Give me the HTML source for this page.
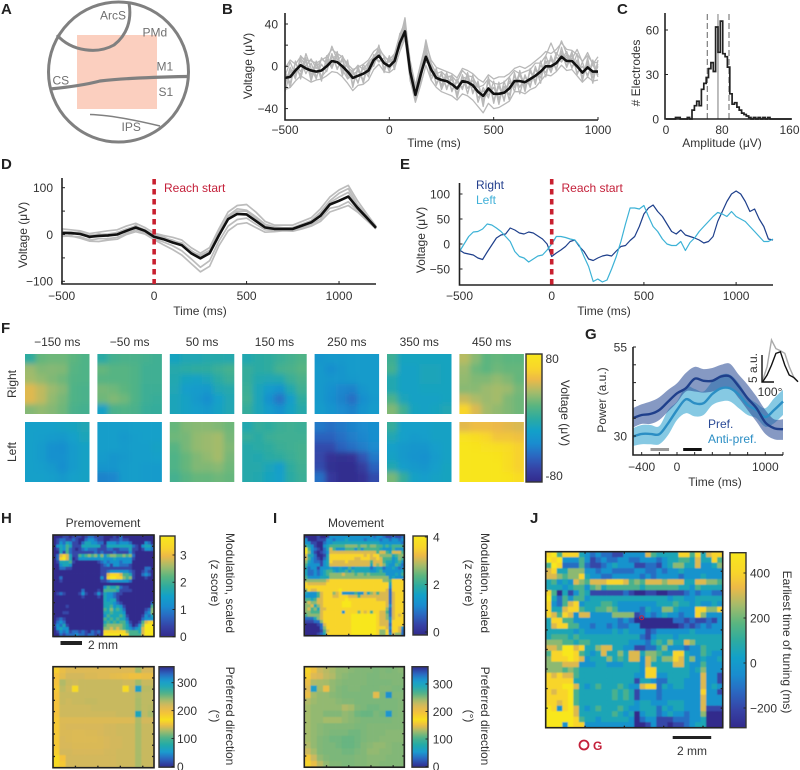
<!DOCTYPE html>
<html lang="en">
<head>
<meta charset="utf-8">
<title>Neural recording figure</title>
<style>
html,body{margin:0;padding:0;background:#fff;overflow:hidden;}
svg{display:block;filter:blur(0.3px);}
text{font-family:"Liberation Sans",Arial,sans-serif;font-size:12px;fill:#333;}
.pl{font-size:15px;font-weight:bold;fill:#222;}
.am{fill:#707070;font-size:12px;}
.red{fill:#c4203a;}
</style>
</head>
<body>
<svg id="figure" xmlns="http://www.w3.org/2000/svg" width="800" height="770" viewBox="0 0 800 770">
<rect width="800" height="770" fill="#fff"/>

<!-- Panel letters -->
<text class="pl" x="1" y="14">A</text>
<text class="pl" x="222" y="14">B</text>
<text class="pl" x="617" y="14">C</text>
<text class="pl" x="1" y="169">D</text>
<text class="pl" x="400" y="169">E</text>
<text class="pl" x="1" y="333">F</text>
<text class="pl" x="585" y="339">G</text>
<text class="pl" x="1" y="523">H</text>
<text class="pl" x="273" y="523">I</text>
<text class="pl" x="530" y="523">J</text>

<!-- Panel A: brain schematic -->
<g>
<rect x="77" y="35" width="80" height="74" fill="#fbcfbf"/>
<circle cx="118.5" cy="72" r="70" fill="none" stroke="#808080" stroke-width="3"/>
<path d="M129 3 C132 20 127 35 114 45 C98 54 72 52 57 35" fill="none" stroke="#808080" stroke-width="3"/>
<path d="M50 89 C70 87 85 85 100 81 C125 78 160 77 187 76.5" fill="none" stroke="#808080" stroke-width="3.2"/>
<path d="M90 114.5 C110 115 135 120 160 126" fill="none" stroke="#808080" stroke-width="1.5"/>
<text class="am" x="100" y="19.5">ArcS</text>
<text class="am" x="142.5" y="36.5">PMd</text>
<text class="am" x="156.5" y="70.5">M1</text>
<text class="am" x="158.5" y="96">S1</text>
<text class="am" x="52.5" y="84.5">CS</text>
<text class="am" x="121.5" y="131">IPS</text>
</g>

<g id="panel-b"></g>
<text transform="translate(252,66) rotate(-90)" text-anchor="middle">Voltage (μV)</text>
<text x="434" y="147" text-anchor="middle">Time (ms)</text>

<g id="panel-c"></g>
<text transform="translate(640,73) rotate(-90)" text-anchor="middle"># Electrodes</text>
<text x="722" y="147" text-anchor="middle">Amplitude (μV)</text>
<text x="666" y="134" text-anchor="middle">0</text>
<text x="722" y="134" text-anchor="middle">80</text>
<text x="799.5" y="134" text-anchor="end">160</text>

<g id="panel-d"></g>
<text transform="translate(27,235) rotate(-90)" text-anchor="middle">Voltage (μV)</text>
<text x="200" y="315" text-anchor="middle">Time (ms)</text>
<text class="red" x="164" y="192">Reach start</text>

<g id="panel-e"></g>
<text transform="translate(425,240) rotate(-90)" text-anchor="middle">Voltage (μV)</text>
<text x="604" y="315" text-anchor="middle">Time (ms)</text>
<text class="red" x="561.5" y="192">Reach start</text>
<text x="476" y="189" style="fill:#24408e">Right</text>
<text x="476" y="204" style="fill:#3fb0d8">Left</text>

<g id="panel-f"></g>
<text transform="translate(16,384) rotate(-90)" text-anchor="middle">Right</text>
<text transform="translate(16,452) rotate(-90)" text-anchor="middle">Left</text>
<text x="545.5" y="363">80</text>
<text x="545.5" y="480">-80</text>
<text transform="translate(561,413) rotate(90)" text-anchor="middle">Voltage (μV)</text>

<g id="panel-g"></g>
<text transform="translate(606,400) rotate(-90)" text-anchor="middle">Power (a.u.)</text>
<text x="715" y="486" text-anchor="middle">Time (ms)</text>
<text x="708" y="428" style="fill:#2a4a96">Pref.</text>
<text x="708" y="443" style="fill:#2b8ec4">Anti-pref.</text>
<text transform="translate(757,368) rotate(-90)" text-anchor="middle">5 a.u.</text>
<text x="770" y="396" text-anchor="middle">100°</text>

<g id="panel-h"></g>
<text x="103" y="527" text-anchor="middle">Premovement</text>
<text transform="translate(226,583) rotate(90)" text-anchor="middle">Modulation, scaled</text>
<text transform="translate(211,583) rotate(90)" text-anchor="middle">(z score)</text>
<rect x="60.5" y="641" width="21.5" height="4" fill="#222"/>
<text x="88" y="649">2 mm</text>
<text transform="translate(226,716) rotate(90)" text-anchor="middle">Preferred direction</text>
<text transform="translate(211,716) rotate(90)" text-anchor="middle">(°)</text>

<g id="panel-i"></g>
<text x="356" y="527" text-anchor="middle">Movement</text>
<text transform="translate(481,583) rotate(90)" text-anchor="middle">Modulation, scaled</text>
<text transform="translate(465,583) rotate(90)" text-anchor="middle">(z score)</text>
<text transform="translate(481,716) rotate(90)" text-anchor="middle">Preferred direction</text>
<text transform="translate(465,716) rotate(90)" text-anchor="middle">(°)</text>

<g id="panel-j"></g>
<text transform="translate(783,642) rotate(90)" text-anchor="middle">Earliest time of tuning (ms)</text>
<circle cx="641.7" cy="617.7" r="2" fill="none" stroke="#c4203a" stroke-width="1"/>
<circle cx="584" cy="745" r="4.5" fill="none" stroke="#c4203a" stroke-width="1.8"/>
<text class="red" x="593" y="750" style="font-weight:bold">G</text>
<rect x="672.7" y="736" width="38.5" height="3" fill="#222"/>
<text x="692" y="755" text-anchor="middle">2 mm</text>
</svg>

<script>
/* ---------- Panel B data (25 ms steps, -500..1000 ms) ---------- */
const bStart = -500;
const bStep = 25;
const bMean = [-11,-10,-4,1,-2,-4,-5,-4,0,5,4,0,-5,-11,-9,-7,-4,6,10,3,0,5,22,33,-5,-27,-8,9,-3,-11,-13,-14,-17,-21,-14,-15,-18,-24,-28,-21,-26,-26,-25,-21,-14,-14,-15,-12,-9,-5,0,0,3,9,5,5,0,-6,-1,-5,-5];
const bTrace1 = [-2,6,2,9,6,5,3,6,9,16,12,9,2,-3,-1,2,6,14,18,9,6,12,30,42,5,-18,2,22,6,-1,-3,-5,-7,-11,-2,-4,-7,-12,-15,-8,-12,-10,-10,-7,-2,0,-2,1,5,9,14,12,16,22,16,15,11,5,10,3,4];
const bTrace2 = [-22,-20,-14,-9,-12,-15,-13,-12,-9,-5,-6,-10,-16,-23,-18,-17,-13,-3,2,-5,-6,-2,14,26,-13,-34,-18,1,-13,-20,-24,-26,-28,-32,-26,-28,-32,-38,-44,-35,-40,-39,-36,-33,-24,-24,-26,-22,-20,-14,-8,-9,-5,1,-4,-3,-9,-15,-10,-14,-13];
const bTrace3 = [-6,-16,3,-5,5,-11,2,-11,7,-2,11,-6,3,-17,-3,-13,3,0,15,-3,6,0,27,38,-11,-24,-3,14,-9,-6,-19,-9,-22,-15,-20,-9,-24,-17,-34,-14,-32,-19,-31,-14,-20,-8,-21,-5,-14,1,-6,7,-3,14,-1,11,-6,0,-8,2,-10];
const bTrace4 = [-15,-4,-10,6,-7,3,-10,2,-5,11,-2,6,-11,-6,-15,-1,-10,11,5,8,-5,10,17,36,-2,-30,-14,14,1,-16,-8,-20,-12,-26,-9,-21,-13,-30,-23,-27,-20,-32,-19,-27,-9,-20,-10,-18,-3,-11,5,-6,9,4,11,-1,6,-12,5,-11,0];
const bTrace5 = [-9,4,-8,8,0,7,-2,7,3,19,6,10,-1,-5,1,-3,4,9,16,10,4,9,25,46,2,-20,-4,25,3,-7,-5,-10,-9,-15,-4,-9,-10,-20,-18,-12,-16,-17,-15,-10,-4,-7,-5,-3,3,3,10,22,10,24,12,7,16,4,13,2,9];
const bTrace6 = [-18,-1,-12,10,4,-8,5,-10,-4,12,-3,8,-9,-4,-16,2,-7,2,15,-2,8,2,20,40,-8,-24,-12,18,-5,-5,-18,-6,-24,-12,-22,-6,-26,-14,-38,-10,-35,-15,-33,-10,-24,-4,-24,-2,-17,5,-10,10,-4,18,0,14,-8,4,-10,6,-8];
const bTrace7 = [-4,-20,5,-12,8,-14,3,-14,10,0,14,-9,6,-20,0,-16,4,3,20,-6,10,-3,31,35,-14,-30,0,20,-13,-2,-22,-10,-10,-28,-8,-26,-8,-34,-20,-30,-14,-36,-14,-32,-6,-26,-8,-20,0,-16,10,-4,13,6,14,-2,12,-14,8,-16,6];
const bTrace8 = [-24,-6,-2,-8,12,-2,-12,8,2,8,10,-3,-12,-8,-4,-14,0,9,4,8,-2,12,18,29,0,-32,-6,4,3,-18,-6,-22,-8,-30,-10,-12,-20,-16,-32,-24,-20,-30,-22,-16,-18,-6,-18,-14,-2,-8,4,6,-2,12,8,0,4,-10,2,-8,2];
const bXTicks = [-500,0,500,1000];
const bYTicks = [40,0,-40];
const bYMinorTicks = [20,-20];

/* ---------- Panel C data ---------- */
const cBinWidth = 3;
const cCounts = [0,0,0,0,1,1,0,0,0,1,0,6,9,12,9,20,24,28,34,38,32,62,45,66,44,42,35,17,10,11,8,6,4,3,2,1,0,1,0,1,0,1,0,1,0,0,0,0,0,0,0,0,0];
const cRefLines = [52.5,80];
const cMeanLine = [66];
const cYTicks = [60,30,0];

/* ---------- Panel D data (50 ms steps, -500..1200 ms) ---------- */
const dStart = -500;
const dStep = 50;
const dMean = [3,3,1,-5,-3,-2,0,8,15,8,-5,-10,-17,-23,-40,-51,-40,-2,33,44,43,29,15,12,12,12,19,26,40,64,72,81,57,36,14];
const dTrace1 = [12,10,8,2,5,8,10,18,24,15,3,-2,-6,-12,-28,-40,-28,12,48,62,64,48,28,20,20,20,28,36,55,80,95,105,72,44,18];
const dTrace2 = [8,-1,6,-8,2,-4,5,4,20,4,0,-5,-14,-18,-36,-44,-34,5,40,55,52,38,22,16,14,14,22,30,48,72,88,98,64,40,16];
const dTrace3 = [-4,-3,-8,-14,-15,-12,-10,0,6,1,-11,-22,-32,-44,-62,-80,-68,-24,8,22,25,15,5,6,8,7,12,18,28,48,55,62,48,30,12];
const dTrace4 = [-2,-4,-5,-12,-9,-9,-6,2,10,4,-9,-16,-24,-35,-52,-70,-56,-14,18,32,35,22,10,9,10,10,15,22,33,56,60,70,52,32,13];
const dTrace5 = [6,5,4,-2,0,1,4,12,18,10,-2,-7,-12,-20,-34,-48,-36,2,38,50,50,34,18,14,13,15,22,28,44,68,80,90,60,38,15];
const dXTicks = [-500,0,500,1000];
const dYTicks = [100,0,-100];
const dYMinorTicks = [50,-50];

/* ---------- Panel E data (25 ms steps, -500..1200 ms) ---------- */
const eStart = -500;
const eStep = 25;
const eRight = [-12,-18,-20,-22,-28,-31,-16,-2,12,18,20,32,28,22,20,24,22,16,10,0,-25,-18,-12,-5,5,8,-5,-15,-30,-33,-28,-24,-22,-24,-14,-5,-3,7,15,35,60,72,78,65,55,40,25,20,28,18,15,12,8,2,5,15,45,65,85,100,106,100,85,65,70,50,35,10,8];
const eLeft = [-15,0,15,24,25,30,40,38,32,25,15,5,-15,-25,-28,-36,-30,-24,-22,-12,0,15,15,13,10,8,-3,-25,-45,-75,-70,-76,-72,-50,-25,5,40,72,72,70,77,55,35,25,10,0,-3,-3,5,-13,3,12,25,35,45,55,63,60,55,65,55,50,45,35,25,15,5,5,10];
const eXTicks = [-500,0,500,1000];
const eYTicks = [100,50,0,-50];

/* ---------- Panel F data (μV, 6x6 coarse maps) ---------- */
const fTimeLabels = ["−150 ms","−50 ms","50 ms","150 ms","250 ms","350 ms","450 ms"];
const fRightM150 = [[0,18,20,20,16,12],[30,24,25,24,14,12],[32,28,24,20,13,12],[45,38,30,25,12,10],[45,38,28,22,12,10],[25,28,25,20,10,8]];
const fRightM50 = [[-2,8,10,10,8,6],[18,14,14,12,6,6],[14,14,14,12,6,6],[22,20,16,12,5,5],[20,24,20,12,5,3],[-15,10,12,10,3,2]];
const fRight50 = [[-12,-8,-8,-5,-4,-5],[-4,-2,0,0,4,8],[-6,-12,-14,-10,-2,4],[-8,-18,-20,-22,-8,-5],[-10,-14,-22,-30,-16,-8],[-10,-14,-18,-22,-14,-8]];
const fRight150 = [[-6,-2,0,4,8,12],[2,-2,0,8,10,14],[2,-6,-8,-6,4,10],[4,-10,-20,-26,-6,6],[6,-10,-28,-42,-18,0],[2,-10,-20,-28,-14,-4]];
const fRight250 = [[-24,-22,-22,-20,-20,-20],[-22,-30,-24,-20,-20,-20],[-22,-24,-24,-22,-20,-20],[-22,-28,-34,-36,-24,-20],[-22,-30,-36,-44,-30,-22],[-20,-26,-32,-36,-26,-20]];
const fRight350 = [[5,-12,-12,-12,-12,-12],[8,-14,-14,-10,-10,-12],[-6,-14,-14,-10,-10,-12],[-6,-14,-14,-12,-12,-12],[10,-10,-14,-14,-14,-12],[24,6,-12,-14,-12,-8]];
const fRight450 = [[36,26,16,18,16,16],[30,20,16,20,18,18],[28,24,24,28,24,18],[26,26,30,32,30,22],[40,34,30,32,24,20],[62,44,32,28,24,20]];
const fLeftM150 = [[-16,-16,-16,-14,-12,-8],[-16,-18,-20,-22,-16,-10],[-16,-20,-28,-30,-20,-14],[-16,-20,-28,-28,-20,-14],[-16,-18,-22,-30,-20,-14],[-16,-16,-18,-22,-16,-14]];
const fLeftM50 = [[-18,-18,-18,-16,-16,-16],[-18,-18,-22,-18,-16,-16],[-18,-18,-20,-18,-18,-14],[-20,-24,-22,-18,-18,-16],[-24,-24,-20,-18,-20,-20],[-36,-34,-20,-18,-20,-20]];
const fLeft50 = [[18,24,26,26,24,20],[20,22,28,30,32,22],[14,22,28,30,32,24],[12,18,24,28,32,22],[12,18,24,24,26,20],[8,14,18,18,20,18]];
const fLeft150 = [[-6,2,0,4,6,4],[2,-2,4,6,6,6],[-4,-2,0,4,6,8],[-4,-6,-2,0,4,8],[-4,-4,-10,-18,0,6],[-4,-6,-12,-16,-2,4]];
const fLeft250 = [[-40,-44,-40,-36,-32,-30],[-50,-50,-44,-38,-34,-30],[-60,-60,-50,-44,-38,-32],[-62,-74,-76,-74,-56,-40],[-60,-76,-78,-78,-68,-50],[-44,-70,-78,-78,-74,-60]];
const fLeft350 = [[2,-16,-16,-16,-14,-14],[-8,-16,-20,-18,-14,-14],[-16,-22,-24,-24,-18,-14],[-14,-22,-26,-28,-20,-14],[-6,-18,-22,-24,-18,-12],[22,2,-14,-18,-14,-12]];
const fLeft450 = [[46,50,50,48,46,44],[74,70,64,54,54,52],[78,76,74,72,68,60],[78,78,78,76,70,60],[78,78,78,78,70,60],[78,78,78,78,76,70]];

/* ---------- Panel G data (100 ms steps, -500..1200 ms) ---------- */
const gStart = -500;
const gStep = 100;
const gPrefMean = [35.0,35.9,36.2,37.3,39.7,42.0,43.4,46.1,45.5,45.5,46.7,46.7,43.9,40.6,37.8,33.8,32.2,31.9];
const gPrefUpper = [37.8,38.9,39.7,40.9,43.0,44.8,47.7,49.4,48.8,49.1,50.0,50.3,47.2,44.4,41.1,37.3,34.7,34.7];
const gPrefLower = [32.4,33.4,33.4,34.5,36.9,39.4,42.5,42.5,42.2,42.5,43.4,43.4,40.6,37.3,34.0,30.6,29.1,28.9];
const gAntiMean = [29.8,30.6,30.6,30.5,33.6,37.3,40.3,39.2,39.2,41.8,43.4,43.4,41.6,38.7,37.3,35.3,37.3,39.7];
const gAntiUpper = [32.2,33.1,33.1,32.8,37.3,39.7,43.9,43.2,42.5,45.3,47.2,47.2,44.8,41.1,39.2,37.8,40.6,43.0];
const gAntiLower = [27.2,27.7,27.7,27.7,30.3,34.5,36.4,35.5,35.9,38.7,39.7,39.7,37.8,35.9,35.0,32.6,33.6,35.9];
const gXTicks = [-400,-200,0,200,400,600,800,1000,1200];
const gXTickLabels = ["−400","","0","","","","","1000",""];
const gYTicks = [55,50,45,40,35,30];
const gYTickLabels = ["55","","","","","30"];
const gPremoveWindow = [-300,-90];
const gMoveWindow = [70,280];
const insetGray = [0.3,2.8,7.8,6.2,5.8,5.3,2.8,0.9,0];
const insetBlack = [0,1.25,3.1,5.3,5.6,3.1,1.25,0.8,0];

/* ---------- Panels H / I / J data: colour levels 0..9 per electrode ---------- */
const hModulationLevels = [
[0,0,0,1,1,0,1,1,1,0,1,2,2,1,1,1,0,0,0,1,0,2,0,0,0,0,0,0,0,0,0,0],
[0,1,2,2,1,1,2,1,0,0,2,3,3,2,1,1,0,0,1,1,1,2,1,1,0,0,0,0,0,0,0,0],
[0,1,3,2,4,3,1,1,0,2,4,4,3,3,2,2,0,3,3,3,2,3,3,3,2,0,0,0,0,3,2,0],
[0,3,4,3,5,4,1,1,1,4,4,4,4,4,4,1,1,4,4,4,4,4,4,4,4,2,1,0,3,4,4,2],
[0,1,4,3,5,2,1,0,1,2,3,2,2,2,1,1,1,2,2,1,1,2,2,2,4,1,1,0,1,3,3,2],
[0,0,4,1,5,2,1,1,1,1,1,1,1,2,1,2,1,1,1,2,1,1,1,1,3,1,0,0,0,0,0,0],
[0,2,7,8,7,4,1,1,5,4,5,6,5,6,4,6,3,5,6,6,5,5,6,5,6,2,0,0,0,0,0,0],
[0,2,8,9,7,4,0,1,3,3,3,3,3,3,3,4,3,3,3,4,3,3,3,3,3,1,0,0,0,0,0,0],
[0,1,4,4,4,5,1,0,0,0,0,0,0,0,1,2,3,2,3,3,3,2,3,3,3,0,0,0,0,0,0,0],
[0,0,3,4,4,3,0,0,0,0,0,0,0,0,0,1,2,3,1,3,3,2,2,2,1,0,0,0,0,0,0,0],
[0,0,2,2,1,1,0,0,0,0,0,0,0,0,0,1,1,1,1,1,1,1,1,1,1,0,0,0,0,2,2,0],
[0,0,0,0,0,0,0,0,0,0,0,0,0,0,0,1,1,2,3,3,3,3,3,3,2,1,0,0,1,2,1,0],
[0,0,0,0,0,0,0,0,0,0,0,0,0,0,0,1,1,7,8,8,8,7,5,5,4,1,0,0,2,3,2,0],
[0,0,2,0,0,0,0,0,0,0,0,0,0,0,0,3,1,8,9,9,8,8,6,5,6,1,0,0,0,1,0,0],
[0,0,1,0,0,0,0,0,0,0,0,0,0,0,0,1,1,2,3,3,3,3,3,3,2,0,0,0,0,0,0,0],
[0,0,0,0,0,0,0,0,0,0,0,0,0,0,0,0,0,0,0,0,0,0,0,0,0,0,0,0,0,0,0,0],
[0,0,0,0,0,0,0,0,0,0,0,0,0,0,0,0,3,5,4,4,5,2,1,1,0,0,0,0,0,0,0,0],
[0,0,0,0,0,0,0,0,0,2,0,0,0,0,1,0,5,5,5,5,4,1,1,1,1,0,0,0,0,0,0,0],
[0,1,2,1,0,0,0,0,1,3,1,0,0,1,3,1,4,3,3,2,1,1,0,0,0,0,0,0,0,0,0,0],
[0,0,0,0,0,0,0,0,0,1,0,0,0,0,1,0,4,3,3,2,1,0,0,0,0,0,0,0,0,0,0,0],
[0,0,0,0,0,0,0,0,0,0,0,0,0,0,0,0,4,3,4,4,1,0,0,0,0,0,0,0,0,0,0,0],
[0,0,0,0,0,0,0,0,0,0,0,0,0,0,0,0,4,4,4,3,2,1,0,0,0,0,0,0,0,0,0,2],
[0,0,0,0,1,0,0,0,0,0,0,0,0,0,0,0,4,4,5,3,4,3,1,0,0,0,0,0,0,0,0,5],
[0,0,0,0,0,0,0,0,0,0,0,0,0,0,0,0,5,4,6,4,5,4,2,0,0,0,0,0,0,1,2,6],
[0,0,0,1,1,0,0,0,0,0,0,0,0,0,0,0,4,4,5,4,4,4,3,0,0,0,0,0,0,2,3,6],
[0,0,0,0,0,0,0,0,0,0,0,0,0,0,0,0,3,5,4,4,4,5,4,1,0,0,0,0,1,3,2,4],
[0,1,2,1,0,0,0,0,0,0,0,0,0,0,0,0,5,4,5,4,5,4,4,2,0,0,0,0,2,3,3,3],
[0,2,3,2,0,0,0,0,0,0,0,0,0,0,0,0,4,5,4,5,4,5,5,3,1,0,0,1,5,7,8,8],
[1,3,2,4,1,0,0,0,0,0,0,0,0,0,0,0,5,6,6,6,6,6,5,4,2,0,1,3,6,9,9,9],
[0,3,4,3,3,0,0,0,0,0,0,0,0,0,0,0,6,6,7,6,7,6,5,4,3,2,3,4,7,9,9,9],
[0,1,3,2,3,1,2,2,1,2,1,0,2,1,2,0,8,8,8,8,8,8,8,6,5,5,5,4,7,9,9,9],
[0,0,2,1,2,2,2,3,2,2,1,2,2,1,1,0,9,9,9,9,9,9,9,8,5,5,5,5,7,9,9,9]
];
const iModulationLevels = [
[0,0,0,0,1,0,0,1,3,3,3,3,3,3,3,3,3,3,3,3,3,3,2,3,3,2,1,1,2,1,1,2],
[3,0,0,0,1,1,1,3,3,2,3,3,3,4,3,3,3,3,3,2,3,3,3,3,2,3,3,2,3,3,2,3],
[3,3,1,1,0,0,2,3,3,4,4,4,4,4,4,4,4,4,4,4,4,4,4,4,3,3,3,3,3,3,3,2],
[5,4,3,1,0,0,3,4,5,5,5,5,5,6,6,6,6,5,6,6,5,6,6,5,5,4,5,4,5,5,5,5],
[9,5,3,2,1,0,2,4,7,5,3,3,3,5,5,5,3,5,3,5,5,5,5,5,4,3,3,3,5,3,3,3],
[9,6,3,1,0,1,2,3,7,7,7,7,7,7,7,7,7,7,7,7,7,7,7,5,7,7,5,4,7,7,7,5],
[7,4,4,2,0,0,1,4,8,8,8,8,8,8,8,8,8,8,8,7,8,7,8,8,6,6,6,6,4,5,6,6],
[7,5,3,2,1,0,2,4,8,8,8,8,8,8,8,8,7,7,8,8,8,7,7,8,7,5,5,5,3,4,6,5],
[6,4,3,2,2,1,3,4,8,7,7,7,7,8,7,7,7,7,7,7,7,5,7,7,7,5,4,4,3,4,5,3],
[5,3,3,3,3,1,3,4,7,7,7,7,7,7,7,7,7,7,7,7,7,4,7,6,7,6,4,3,3,5,4,2],
[4,2,3,3,1,3,3,3,4,3,3,4,3,3,5,3,4,4,4,4,4,2,3,4,4,2,3,3,4,3,2,3],
[4,2,2,3,2,3,4,5,5,4,3,4,4,5,3,5,4,4,4,4,4,3,3,4,5,3,3,3,3,3,3,4],
[4,2,2,3,2,3,4,5,6,6,6,6,7,6,6,6,5,6,6,5,6,5,5,5,5,5,3,3,3,4,3,5],
[5,3,3,3,3,4,4,4,6,6,6,6,6,6,6,6,6,6,6,6,6,6,6,6,6,6,6,3,4,3,3,3],
[6,6,6,6,6,6,6,7,8,8,8,8,8,8,8,8,8,8,8,8,8,8,8,8,8,6,6,5,8,8,8,8],
[8,7,7,7,7,7,7,8,8,8,8,8,8,8,8,8,8,8,8,8,8,8,8,8,8,8,8,4,8,8,8,8],
[8,8,8,8,8,8,8,8,8,8,8,8,8,8,8,8,8,8,8,8,8,8,8,8,8,8,8,3,8,8,8,8],
[6,8,7,7,8,8,8,8,8,8,8,9,8,8,8,8,8,8,8,8,8,8,8,8,8,8,7,2,8,8,8,8],
[4,3,3,3,5,7,8,8,8,6,7,8,3,3,3,3,5,3,3,7,4,6,7,5,7,7,7,2,7,8,8,8],
[3,3,3,3,5,7,8,8,8,7,7,8,8,8,7,7,7,5,7,7,7,7,7,7,7,7,7,2,7,8,8,8],
[5,5,4,5,7,7,8,8,8,8,8,8,8,9,8,8,8,8,8,8,8,8,8,7,7,7,7,2,7,8,8,8],
[6,7,6,6,7,7,8,8,8,8,8,8,9,9,9,8,8,8,8,8,8,8,8,8,8,8,7,2,7,8,8,8],
[6,6,7,4,6,7,8,8,8,8,8,8,9,9,9,8,8,8,8,8,8,8,8,8,8,8,7,3,7,8,8,8],
[6,7,5,6,4,7,7,8,8,8,8,8,8,8,8,8,8,8,8,8,8,8,8,8,8,8,6,2,7,8,8,8],
[6,6,5,5,5,7,8,8,8,8,8,8,3,8,8,8,8,6,8,7,8,5,8,8,7,7,5,2,7,8,8,8],
[5,6,6,6,6,7,8,8,8,8,8,8,8,8,8,9,9,9,9,9,9,9,9,8,7,7,6,2,7,8,7,8],
[2,2,2,4,6,7,8,8,8,8,8,8,8,8,8,9,9,9,9,9,9,9,9,8,7,7,6,3,7,8,8,8],
[1,1,1,2,2,6,8,8,8,8,8,8,8,8,8,9,9,9,9,9,9,9,9,8,7,7,7,3,8,8,8,8],
[0,0,0,0,1,2,7,8,8,8,8,8,8,8,8,9,9,9,9,9,9,9,9,8,7,7,7,2,8,8,8,8],
[0,0,0,0,0,2,6,8,8,8,8,8,8,8,8,9,9,9,9,9,9,9,9,8,8,8,7,3,8,8,7,3],
[0,0,0,0,0,1,5,7,8,8,8,8,8,8,8,9,9,9,9,9,9,9,9,8,6,6,8,2,8,8,7,2],
[0,0,0,0,1,2,4,8,8,8,8,8,8,8,8,9,9,9,9,9,9,9,9,8,6,6,8,3,7,6,6,2]
];
const jTuningLevels = [
[8,9,5,8,8,8,4,3,2,3,2,2,1,1,3,3,3,3,7,5,4,4,4,4,8,8,5,8,4,7,8,8],
[9,8,9,3,3,3,5,3,1,2,3,2,2,3,3,2,2,3,3,3,2,3,4,4,5,5,4,7,4,4,8,5],
[5,9,8,2,2,2,5,2,1,1,2,3,4,3,3,3,1,1,2,2,1,3,4,6,6,4,4,7,3,3,4,6],
[7,8,4,4,6,6,6,3,3,2,3,3,2,2,2,2,3,3,2,2,3,2,3,3,4,3,3,3,3,3,3,3],
[7,7,6,5,6,6,8,4,3,3,2,2,3,3,3,3,3,2,3,2,3,3,3,3,2,3,3,3,4,3,3,3],
[4,5,3,4,3,7,6,5,7,7,7,8,8,8,7,5,6,5,7,7,7,6,7,7,7,4,4,7,7,6,6,5],
[4,4,4,3,4,5,5,3,5,6,4,5,5,5,5,5,5,4,5,5,5,5,5,5,4,4,3,5,4,4,4,4],
[8,5,0,4,1,3,5,4,1,1,1,1,1,1,2,1,0,0,1,1,0,0,1,1,1,2,3,2,3,3,2,2],
[9,4,2,5,3,5,5,3,4,4,4,4,4,4,4,4,4,4,4,4,4,4,3,4,4,3,3,4,4,4,4,4],
[8,3,2,5,7,8,3,4,4,4,5,5,4,3,3,3,3,3,3,3,4,4,4,5,4,4,3,4,3,3,4,3],
[8,4,4,7,8,8,5,4,4,5,5,6,5,3,3,3,3,2,4,3,3,6,6,4,3,3,3,8,8,6,6,8],
[8,7,5,8,7,3,7,7,3,3,3,3,6,6,6,6,1,2,3,2,3,4,3,3,2,3,3,8,6,3,3,3],
[4,8,8,5,5,3,3,3,3,3,3,3,3,2,3,2,0,0,0,0,0,0,0,2,2,1,2,1,1,2,1,3],
[4,7,8,8,5,5,3,3,2,3,3,2,3,2,2,3,3,0,0,0,0,0,0,0,1,2,1,2,3,2,3,3],
[4,4,4,4,4,3,4,3,3,3,3,3,4,3,4,3,3,3,1,2,3,3,3,3,3,3,4,3,3,3,3,3],
[4,5,5,5,4,5,4,4,4,4,4,4,4,4,4,4,4,2,1,3,4,4,4,3,4,4,4,4,4,4,4,4],
[6,6,6,5,5,4,5,5,4,4,4,4,4,4,4,3,3,3,2,4,5,4,6,4,4,7,6,4,4,4,4,4],
[7,7,6,9,9,7,8,4,4,6,7,7,4,4,3,3,1,1,2,2,4,6,3,3,3,2,3,3,5,4,4,4],
[5,8,8,9,9,8,5,4,3,4,7,4,4,6,4,7,7,4,6,6,5,4,4,8,8,4,3,3,5,4,3,3],
[6,8,8,8,9,8,7,3,4,4,4,6,4,5,4,7,7,3,7,6,4,6,6,8,7,4,6,3,4,3,3,4],
[6,6,6,7,7,7,3,3,3,4,4,3,3,3,4,4,4,3,7,4,4,4,4,7,7,4,3,3,5,3,3,3],
[6,6,6,5,6,5,4,4,4,4,4,4,4,4,4,4,4,3,8,8,4,4,4,4,4,4,3,4,6,3,3,3],
[8,7,8,7,7,5,4,4,4,4,4,4,4,4,4,4,3,3,8,8,3,3,4,4,4,4,3,3,7,3,3,1],
[8,8,8,8,8,4,4,4,4,4,4,4,4,4,4,4,1,4,4,3,2,2,4,4,4,3,3,3,7,3,3,1],
[8,8,8,9,9,7,4,3,4,5,4,4,4,5,4,3,3,7,8,8,2,4,3,4,4,3,3,3,7,3,4,3],
[8,7,8,8,9,5,4,4,4,4,4,4,5,4,5,4,1,3,3,3,2,3,3,3,3,3,3,3,8,3,3,1],
[8,8,8,8,9,5,4,4,4,4,4,4,5,4,5,4,1,3,3,3,2,3,3,3,3,3,3,3,7,3,3,3],
[8,8,7,8,9,5,4,4,4,4,4,4,4,4,4,4,3,4,4,3,3,3,4,4,4,3,3,3,7,3,3,3],
[9,8,3,8,9,7,4,3,4,5,4,4,4,5,4,3,3,4,4,4,2,4,3,4,4,3,3,3,7,1,1,1],
[9,9,9,9,9,7,4,4,4,4,4,4,5,4,3,4,0,3,4,4,2,3,4,3,3,2,3,3,6,0,0,0],
[9,9,9,9,9,8,5,4,4,3,4,4,4,4,4,3,0,2,3,3,1,1,1,2,2,2,3,3,4,0,0,0],
[9,9,9,3,9,8,8,3,3,3,3,3,3,3,3,3,0,0,1,3,1,1,0,1,1,2,3,4,4,0,0,0]
];

/* Preferred direction (degrees, 16x16) */
const hPreferred = [
[185,205,215,215,215,215,215,215,215,215,215,215,215,240,220,220],
[195,210,222,222,222,218,218,215,215,210,208,205,200,200,205,205],
[195,235,226,224,226,226,226,226,226,226,226,224,224,240,226,226],
[190,230,224,175,226,226,226,226,226,226,226,175,226,60,232,232],
[195,226,226,226,226,226,226,226,226,226,226,226,226,235,230,230],
[195,226,224,226,226,228,228,226,226,226,226,226,226,238,230,230],
[195,224,224,224,224,224,226,226,226,226,226,226,226,238,230,232],
[195,224,224,224,224,224,224,224,224,224,226,226,226,70,230,238],
[190,216,216,216,216,216,216,216,216,216,216,216,216,236,222,222],
[190,218,220,220,220,220,220,220,222,222,224,224,224,238,226,226],
[190,218,218,216,216,218,218,220,222,222,224,224,224,238,226,226],
[190,220,218,216,216,216,216,218,220,222,222,224,224,238,226,226],
[190,220,220,218,218,218,218,218,220,222,222,224,224,238,226,226],
[185,222,222,220,220,220,220,220,222,222,224,224,224,238,226,226],
[175,195,222,222,222,222,222,222,222,222,224,224,224,238,226,226],
[175,190,222,222,222,222,222,222,222,222,224,224,224,238,226,226]
];
const iPreferred = [
[180,200,225,232,238,245,245,248,250,250,250,252,250,252,250,248],
[185,215,220,230,235,245,248,250,250,250,252,252,250,250,250,250],
[205,235,238,240,245,248,250,250,250,250,252,252,252,252,250,250],
[215,58,240,205,245,250,252,250,250,252,252,252,250,250,252,252],
[205,240,245,245,248,250,252,252,252,252,252,210,252,50,250,250],
[235,242,245,245,245,248,250,250,252,252,252,252,252,252,252,250],
[240,245,245,245,245,245,235,240,250,252,255,255,252,252,252,250],
[240,245,245,250,250,250,245,248,255,258,258,252,255,52,252,250],
[240,245,245,240,240,240,245,248,250,252,252,252,252,252,250,250],
[240,245,248,250,250,250,250,250,252,252,250,250,250,250,250,250],
[240,245,248,250,252,252,252,255,255,252,250,250,250,248,248,248],
[240,245,250,252,255,255,258,258,255,252,250,250,248,248,248,248],
[235,245,250,252,252,255,258,258,255,250,248,245,245,248,250,250],
[225,240,250,252,252,252,255,255,252,250,245,245,248,248,250,250],
[190,225,245,250,252,252,252,252,250,250,248,248,248,250,250,250],
[180,205,232,245,250,250,252,252,250,250,248,248,250,250,250,250]
];
const prefTicks = [300,200,100,0];
const hZTicks = [3,2,1,0];
const iZTicks = [4,2,0];
const jTimeTicks = [400,200,0,-200];
const hZPerLevel = [0.41];
const iZPerLevel = [0.444];
const jMsPerLevel = [87];

/* ---------- Colour maps ---------- */
const parulaStops = [[0,"#322a8c"],[0.1,"#3642a5"],[0.2,"#2b66c0"],[0.3,"#1a8ccf"],[0.4,"#12a0c9"],[0.5,"#2eab9f"],[0.6,"#5cb57f"],[0.7,"#a4bb6b"],[0.8,"#ecb948"],[0.88,"#f8d42c"],[1,"#f8e71c"]];
const cyclicStops = [[0,"#322a8c"],[30,"#2b66c0"],[55,"#1a9ccf"],[80,"#22aba8"],[105,"#4fb28a"],[130,"#a4bb6b"],[150,"#ecbb45"],[170,"#f8e01e"],[195,"#f4c23a"],[220,"#d8b85a"],[240,"#a4bb6b"],[265,"#4fb28a"],[290,"#20a8b8"],[310,"#1a9ccf"],[335,"#2b66c0"],[360,"#322a8c"]];
function hexToRgb(h){return [parseInt(h.substr(1,2),16),parseInt(h.substr(3,2),16),parseInt(h.substr(5,2),16)];}
function sampleStops(stops,v){
  const lo=stops[0][0],hi=stops[stops.length-1][0];
  v=Math.max(lo,Math.min(hi,v));
  for(let i=1;i<stops.length;i++){
    if(v<=stops[i][0]){
      const a=hexToRgb(stops[i-1][1]),b=hexToRgb(stops[i][1]);
      const f=(v-stops[i-1][0])/(stops[i][0]-stops[i-1][0]);
      return "rgb("+a.map((c,k)=>Math.round(c+(b[k]-c)*f)).join(",")+")";
    }
  }
  return stops[stops.length-1][1];
}
const NS="http://www.w3.org/2000/svg";
function mk(tag,attrs,parent){
  const el=document.createElementNS(NS,tag);
  for(const k in attrs){el.setAttribute(k,attrs[k]);}
  parent.appendChild(el);
  return el;
}
function linear(d0,d1,r0,r1){return v=>r0+(v-d0)*(r1-r0)/(d1-d0);}
function fmt(v){return v<0?"−"+Math.abs(v):String(v);}
const AXIS="#222";

function drawAxisFrame(g,xL,xR,yT,yB){
  const p=mk('path',{d:`M${xL} ${yT}V${yB}H${xR}`,fill:'none',stroke:AXIS,'stroke-width':1.6},g);
  
  
}
function drawXTicks(g,ticks,sx,yB,labelY,labels){
  ticks.forEach((t,i)=>{
    const l=mk('line',{x1:sx(t),x2:sx(t),y1:yB,y2:yB-3,stroke:AXIS,'stroke-width':1},g);
    
    
    const s=labels?labels[i]:fmt(t);
    if(labelY!==null&&s!==""){
      const tx=mk('text',{x:sx(t),y:labelY,'text-anchor':'middle'},g);
      tx.textContent=s;
      
      
    }
  });
}
function drawYTicks(g,ticks,sy,xL,labelX,labels){
  ticks.forEach((t,i)=>{
    const l=mk('line',{x1:xL,x2:xL+3,y1:sy(t),y2:sy(t),stroke:AXIS,'stroke-width':1},g);
    
    
    const s=labels?labels[i]:fmt(t);
    if(labelX!==null&&s!==""){
      const tx=mk('text',{x:labelX,y:sy(t)+4.3,'text-anchor':'end'},g);
      tx.textContent=s;
      
      
    }
  });
}
function linePath(vals,start,step,sx,sy){
  return vals.map((v,i)=>(i?'L':'M')+sx(start+i*step).toFixed(1)+' '+sy(v).toFixed(1)).join('');
}
function drawTrace(g,vals,start,step,sx,sy,color,width){
  const p=mk('path',{d:linePath(vals,start,step,sx,sy),fill:'none',stroke:color,'stroke-width':width,'stroke-linejoin':'round'},g);
  
  
  return p;
}
function drawReachLine(g,x,yT,yB){
  const l=mk('line',{x1:x,x2:x,y1:yT,y2:yB,stroke:'#c8202f','stroke-width':3.6,'stroke-dasharray':'5.5 4.5'},g);
  
  
}

/* ---------- Panel B ---------- */
(function(){
  const g=document.getElementById('panel-b');
  const sx=linear(-500,1000,285,598), sy=linear(0,40,66.3,24);
  [bTrace1,bTrace2,bTrace3,bTrace4,bTrace5,bTrace6,bTrace7,bTrace8].forEach(tr=>drawTrace(g,tr,bStart,bStep,sx,sy,'#b8b8b8',1.3));
  drawTrace(g,bMean,bStart,bStep,sx,sy,'#111',2.6);
  drawAxisFrame(g,285,598,13,120);
  drawXTicks(g,bXTicks,sx,120,134);
  drawYTicks(g,bYTicks,sy,285,278);
  drawYTicks(g,bYMinorTicks,sy,285,null);
})();

/* ---------- Panel C ---------- */
(function(){
  const g=document.getElementById('panel-c');
  const sx=linear(0,160,666,792), sy=linear(0,60,119,30);
  cRefLines.forEach(v=>{
    const l=mk('line',{x1:sx(v),x2:sx(v),y1:14,y2:119,stroke:'#888','stroke-width':1.3,'stroke-dasharray':'6 3'},g);
    
    
  });
  cMeanLine.forEach(v=>{
    const l=mk('line',{x1:sx(v),x2:sx(v),y1:14,y2:119,stroke:'#999','stroke-width':1.3},g);
    
    
  });
  let d='M'+sx(0)+' '+sy(0);
  cCounts.forEach((c,i)=>{
    d+='V'+sy(c).toFixed(1)+'H'+sx((i+1)*cBinWidth).toFixed(1);
  });
  const p=mk('path',{d:d,fill:'none',stroke:'#222','stroke-width':1.7},g);
  
  
  drawAxisFrame(g,665,792,13,119);
  drawYTicks(g,cYTicks,sy,665,659);
})();

/* ---------- Panel D ---------- */
(function(){
  const g=document.getElementById('panel-d');
  const sx=linear(-500,1200,61.7,376), sy=linear(0,100,234.5,187.7);
  [dTrace1,dTrace2,dTrace3,dTrace4,dTrace5].forEach(tr=>drawTrace(g,tr,dStart,dStep,sx,sy,'#bcbcbc',1.7));
  drawTrace(g,dMean,dStart,dStep,sx,sy,'#111',2.6);
  drawAxisFrame(g,62,376,178,284);
  drawXTicks(g,dXTicks,sx,284,300);
  drawYTicks(g,dYTicks,sy,62,53);
  drawYTicks(g,dYMinorTicks,sy,62,null);
  drawReachLine(g,sx(0),179,284);
})();

/* ---------- Panel E ---------- */
(function(){
  const g=document.getElementById('panel-e');
  const sx=linear(-500,1200,459.5,773), sy=linear(0,100,244,194);
  drawTrace(g,eRight,eStart,eStep,sx,sy,'#1e3f8b',1.2);
  drawTrace(g,eLeft,eStart,eStep,sx,sy,'#3cb2d6',1.2);
  drawAxisFrame(g,459.5,773,183,285);
  drawXTicks(g,eXTicks,sx,285,300);
  drawYTicks(g,eYTicks,sy,459.5,450);
  drawReachLine(g,sx(0),179,285);
})();

/* ---------- Colorbars ---------- */
let gradCount=0;
function drawColorbar(g,x,y,w,h,stops,lo,hi){
  const gid='grad'+(gradCount++);
  const defs=mk('defs',{},g);
  const lg=mk('linearGradient',{id:gid,x1:0,x2:0,y1:1,y2:0},defs);
  for(let i=0;i<=40;i++){
    const v=lo+(hi-lo)*i/40;
    mk('stop',{offset:i/40,'stop-color':sampleStops(stops,v)},lg);
  }
  const r=mk('rect',{x:x,y:y,width:w,height:h,fill:'url(#'+gid+')',stroke:'#333','stroke-width':1.4},g);
  
  
}
function drawCbarTicks(g,ticks,sy,xR,labelX){
  ticks.forEach(t=>{
    const l=mk('line',{x1:xR-2.5,x2:xR,y1:sy(t),y2:sy(t),stroke:'#222','stroke-width':0.9},g);
    
    
    const tx=mk('text',{x:labelX,y:sy(t)+4.3},g);
    tx.textContent=fmt(t);
    
    
  });
}

/* ---------- Panel F ---------- */
(function(){
  const g=document.getElementById('panel-f');
  const rightMaps=[fRightM150,fRightM50,fRight50,fRight150,fRight250,fRight350,fRight450];
  const leftMaps=[fLeftM150,fLeftM50,fLeft50,fLeft150,fLeft250,fLeft350,fLeft450];
  const defs=mk('defs',{},g);
  const flt=mk('filter',{id:'tile-blur',x:'-20%',y:'-20%',width:'140%',height:'140%'},defs);
  mk('feGaussianBlur',{stdDeviation:2.6},flt);
  const tileW=64.5,tileH=60,pad=14;
  function tile(map,col,top,id){
    const left=25+col*72.4;
    const cp=mk('clipPath',{id:id},defs);
    mk('rect',{x:left,y:top,width:tileW,height:tileH},cp);
    const outer=mk('g',{'clip-path':'url(#'+id+')'},g);
    
    
    const inner=mk('g',{filter:'url(#tile-blur)'},outer);
    const n=map.length,cw=tileW/map[0].length,ch=tileH/n;
    map.forEach((row,r)=>row.forEach((v,c)=>{
      const x0=left+c*cw-(c===0?pad:0), y0=top+r*ch-(r===0?pad:0);
      const x1=left+(c+1)*cw+(c===row.length-1?pad:0)+0.3, y1=top+(r+1)*ch+(r===n-1?pad:0)+0.3;
      const cell=mk('rect',{x:x0,y:y0,width:x1-x0,height:y1-y0,fill:sampleStops(parulaStops,(v+80)/160)},inner);
      
      
    }));
  }
  fTimeLabels.forEach((s,i)=>{
    const t=mk('text',{x:25+i*72.4+tileW/2,y:346,'text-anchor':'middle'},g);
    t.textContent=s;
    
    
    tile(rightMaps[i],i,354,'clip-r'+i);
    tile(leftMaps[i],i,422,'clip-l'+i);
  });
  drawColorbar(g,526,354,16,128,parulaStops,0,1);
})();

/* ---------- Panel G ---------- */
function smoothPath(pts,moveFirst){
  let d=(moveFirst?'M':'L')+pts[0][0].toFixed(1)+' '+pts[0][1].toFixed(1);
  for(let i=0;i<pts.length-1;i++){
    const p0=pts[Math.max(0,i-1)],p1=pts[i],p2=pts[i+1],p3=pts[Math.min(pts.length-1,i+2)];
    const c1=[p1[0]+(p2[0]-p0[0])/6,p1[1]+(p2[1]-p0[1])/6];
    const c2=[p2[0]-(p3[0]-p1[0])/6,p2[1]-(p3[1]-p1[1])/6];
    d+='C'+c1[0].toFixed(1)+' '+c1[1].toFixed(1)+' '+c2[0].toFixed(1)+' '+c2[1].toFixed(1)+' '+p2[0].toFixed(1)+' '+p2[1].toFixed(1);
  }
  return d;
}
(function(){
  const g=document.getElementById('panel-g');
  const sx=linear(0,1000,677,765.3), sy=linear(30,55,436,347);
  const pts=(vals)=>vals.map((v,i)=>[sx(gStart+i*gStep),sy(v)]);
  function band(up,lo,fill,opacity){
    const d=smoothPath(pts(up),true)+smoothPath(pts(lo).reverse(),false)+'Z';
    const p=mk('path',{d:d,fill:fill,'fill-opacity':opacity},g);
    
    
  }
  function curve(vals,color){
    const p=mk('path',{d:smoothPath(pts(vals),true),fill:'none',stroke:color,'stroke-width':2.4},g);
    
    
  }
  band(gAntiUpper,gAntiLower,'#7fc6e2',0.95);
  band(gPrefUpper,gPrefLower,'#2f4f97',0.58);
  curve(gAntiMean,'#2b8ec4');
  curve(gPrefMean,'#1f3f8b');
  drawAxisFrame(g,633,783,347,455);
  drawXTicks(g,gXTicks,sx,455,471,gXTickLabels);
  drawYTicks(g,gYTicks,sy,633,627,gYTickLabels);
  const b1=mk('rect',{x:sx(gPremoveWindow[0]),y:448,width:sx(gPremoveWindow[1])-sx(gPremoveWindow[0]),height:3,fill:'#999'},g);
  
  
  const b2=mk('rect',{x:sx(gMoveWindow[0]),y:448,width:sx(gMoveWindow[1])-sx(gMoveWindow[0]),height:3,fill:'#111'},g);
  
  
  const ix=linear(0,8,762.7,798), iy=linear(0,5,381.7,355);
  const inset=(vals,color)=>{
    const p=mk('path',{d:vals.map((v,i)=>(i?'L':'M')+ix(i).toFixed(1)+' '+iy(v).toFixed(1)).join(''),fill:'none',stroke:color,'stroke-width':1.4},g);
    
    
  };
  inset(insetGray,'#aaa');
  inset(insetBlack,'#111');
  const sc=mk('path',{d:'M762 355V382H774',fill:'none',stroke:'#111','stroke-width':1.4},g);
  
  
})();

/* ---------- Heatmaps H / I / J ---------- */
(function(){
  const defs=mk('defs',{},document.getElementById('figure'));
  const flt=mk('filter',{id:'cell-soften',x:'-2%',y:'-2%',width:'104%',height:'104%'},defs);
  mk('feGaussianBlur',{stdDeviation:0.55},flt);
})();
function drawHeatmap(g,grid,x,y,w,h,colorFn){
  const nr=grid.length,nc=grid[0].length,cw=w/nc,ch=h/nr;
  const cells=mk('g',{filter:'url(#cell-soften)'},g);
  
  
  grid.forEach((row,r)=>row.forEach((v,c)=>{
    const cell=mk('rect',{x:x+c*cw,y:y+r*ch,width:cw+0.4,height:ch+0.4,fill:colorFn(v)},cells);
    
    
  }));
  const frame=mk('rect',{x:x,y:y,width:w,height:h,fill:'none',stroke:'#222','stroke-width':1.6},g);
  
  
  for(let i=1;i<9;i++){
    const yy=y+h*i/9;
    [[x,x+2],[x+w-2,x+w]].forEach(e=>{
      const t=mk('line',{x1:e[0],x2:e[1],y1:yy,y2:yy,stroke:'#222','stroke-width':1.3},g);
      
      
    });
    if(i%2===0){
      const xx=x+w*i/9;
      [[y,y+2],[y+h-2,y+h]].forEach(e=>{
        const t=mk('line',{x1:xx,x2:xx,y1:e[0],y2:e[1],stroke:'#222','stroke-width':1.3},g);
        
        
      });
    }
  }
}
const prefColor=v=>sampleStops(cyclicStops,v);
(function(){
  const g=document.getElementById('panel-h');
  const zMax=3.69;
  drawHeatmap(g,hModulationLevels,53,535,101,101.5,v=>sampleStops(parulaStops,v*hZPerLevel[0]/zMax));
  drawColorbar(g,160,536,15,100.7,parulaStops,0,1);
  drawCbarTicks(g,hZTicks,linear(0,3,636.7,555),175,180);
  drawHeatmap(g,hPreferred,53,666.7,101,101,prefColor);
  drawColorbar(g,159,666.7,15,100.5,cyclicStops,0,360);
  drawCbarTicks(g,prefTicks,linear(0,300,766.5,682.7),174,177);
})();
(function(){
  const g=document.getElementById('panel-i');
  const zMax=4;
  drawHeatmap(g,iModulationLevels,304.3,535,100,100.7,v=>sampleStops(parulaStops,v*iZPerLevel[0]/zMax));
  drawColorbar(g,413,536,14.3,99,parulaStops,0,1);
  drawCbarTicks(g,iZTicks,linear(0,4,632,537),427.3,433);
  drawHeatmap(g,iPreferred,304.3,666.7,100,100.5,prefColor);
  drawColorbar(g,412,666.7,16,100.5,cyclicStops,0,360);
  drawCbarTicks(g,prefTicks,linear(0,300,766.5,684),428,432.7);
})();
(function(){
  const g=document.getElementById('panel-j');
  drawHeatmap(g,jTuningLevels,545.7,551.7,177,176,v=>sampleStops(parulaStops,(v*jMsPerLevel[0])/783));
  drawColorbar(g,730,552.7,16,175,parulaStops,0,1);
  drawCbarTicks(g,jTimeTicks,linear(0,400,663,573),746,750);
})();
</script>
</body>
</html>
